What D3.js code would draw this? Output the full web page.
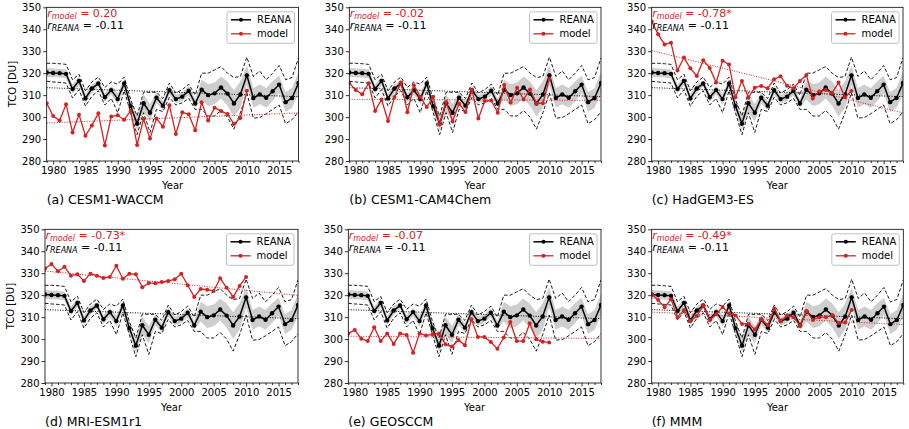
<!DOCTYPE html>
<html><head><meta charset="utf-8">
<script src="https://cdn.jsdelivr.net/npm/d3@7"></script>
<style>body{margin:0;background:#fff} svg{display:block;font-family:"DejaVu Sans",sans-serif}</style>
</head><body><svg id="c" width="909" height="429"></svg>
<script>
const years = [1979,1980,1981,1982,1983,1984,1985,1986,1987,1988,1989,1990,1991,1992,1993,1994,1995,1996,1997,1998,1999,2000,2001,2002,2003,2004,2005,2006,2007,2008,2009,2010,2011,2012,2013,2014,2015,2016,2017,2018];
const reana = [320.3,320.1,320,319.7,312.8,316.5,308.5,313,315.3,309,312.3,308.2,315.3,305,297,306.3,302,308.8,305.2,312.3,308.2,309.3,312,306.2,312.5,310,310.8,313.5,310.7,306.2,310.3,319,308.7,310.3,308.8,311.8,314.8,306.8,308.7,315.5];
const reanaBandLo = [318.3,318.1,318,317.7,310.8,314.5,306.5,311,313.8,307,310.3,305.7,313.3,302.5,294,302.3,298,306.3,303.2,310.3,306.2,307.3,310,304.2,308,305,305.8,308.5,305.2,300.2,304.3,314.5,304.2,305.8,304.3,307.3,310.8,302.3,304.2,310.5];
const reanaBandHi = [322.3,322.1,322,321.7,314.8,318.5,310.5,315,316.8,311,314.3,310.7,317.3,307.5,300,310.3,306,311.3,307.2,314.3,310.2,311.3,314,308.2,317,315,315.8,318.5,316.2,312.2,316.3,323.5,313.2,314.8,313.3,316.3,318.8,311.3,313.2,320.5];
const dashHi = [324.5,324.5,324.3,324,317,319.5,312,316,318.2,313.5,316,315,318.2,308,300.5,311.3,311.3,311.3,308.5,315.5,311,312.5,315,310,320,320,321.5,323,320,318,318.5,327.3,318.5,321,317,320,323.5,317,318,327];
const dashLo = [316.3,316,315.8,315.5,308.7,312.5,305,309.5,312,305.5,308.5,302,312,302,292,302,293,303.5,302.5,309,305.5,306.5,308.5,303.5,303.5,300.5,300.5,303,300,294.5,302,311,299.5,299.8,301.5,303.5,305.5,297,298.8,302.5];
const reanaTrend = [313.4, 309.3];

const modelYears = [1979,1980,1981,1982,1983,1984,1985,1986,1987,1988,1989,1990,1991,1992,1993,1994,1995,1996,1997,1998,1999,2000,2001,2002,2003,2004,2005,2006,2007,2008,2009,2010];
const modelWACCM = [306.3,300.5,298.4,305.8,293,301.1,291.5,296.2,301.7,287.1,300.3,300.8,298.8,302.8,287.3,299.1,290.2,299.4,295.6,305.4,292.3,302.2,301.3,294,306.7,298.4,304.3,302.8,301.4,296.9,299.6,312];
const modelCAM4 = [315.5,312.3,310.4,315.4,302.8,308,298.2,309.2,315.7,302.2,314.5,309.2,304.6,309.3,296.6,306.9,298,306.1,302.3,312.3,299.4,307.3,307.5,302,314.6,306.6,313.4,308,312.6,306.3,306.3,317.4];
const modelHadGEM = [343.5,337.7,333.1,333.9,321.2,327.1,322.2,318.7,325.9,322.4,315.7,325.7,324,309,316.4,308.9,313.4,314.2,313.1,317.2,318.6,314.3,313.1,316.4,319.2,308.5,311.7,312.3,311,315.7,309,311.9];
const modelMRI = [332.1,334.2,330.9,333,328.9,329.5,326.5,329.8,328.9,327.8,328.3,333.4,327.5,329.8,329.5,323.6,325.6,325.4,326,326.5,327.2,329.8,324.5,319.2,322.8,322.5,321.9,327.7,323.4,319.2,324.2,328.3];
const modelGEOS = [302.6,304.1,300.2,299.1,305.4,299.1,302.6,297.8,302.5,301.9,293.8,302.6,301.6,302.2,302.6,297.6,296.6,299.6,297.2,309,301,301,298.7,295.6,300.7,307.8,299.1,299.1,307.2,299.9,298.8,298.5];
const modelMMM = [320.4,317.8,314.5,318.1,309.9,313.3,308.2,310.5,315.2,308.7,311.3,314.6,311.6,310.7,306.9,307,304.4,308.9,306.4,313.9,308.1,310.8,309.9,306.1,312.8,308.7,310,310,310.8,307.3,307.6,313.3];
const modelSeries = [modelWACCM, modelCAM4, modelHadGEM, modelMRI, modelGEOS, modelMMM];
const modelTrends = [[297.3,301.9],[308.1,307.6],[330.3,301.9],[331,319.9],[301.3,300.3],[312.3,306.6]];

const panelLabels = ["(a) CESM1-WACCM","(b) CESM1-CAM4Chem","(c) HadGEM3-ES","(d) MRI-ESM1r1","(e) GEOSCCM","(f) MMM"];
const rModel = ["0.20","-0.02","-0.78*","-0.73*","-0.07","-0.49*"];
const rReana = "-0.11";
const yTicks = [280,290,300,310,320,330,340,350];
const xTicks = [1980,1985,1990,1995,2000,2005,2010,2015];

const layout = [
  {x0:46.7,x1:298.5,y0:7.3,y1:161},
  {x0:349.3,x1:601,y0:7.3,y1:161},
  {x0:651.7,x1:903,y0:7.3,y1:161},
  {x0:45,x1:298,y0:229.3,y1:383},
  {x0:348.3,x1:601,y0:229.3,y1:383},
  {x0:651.7,x1:903.3,y0:229.3,y1:383}
];
const RED = "#d42222";
const svg = d3.select("#c");

layout.forEach((L,i)=>{
  const g = svg.append("g");
  const x = d3.scaleLinear().domain([1979,2018]).range([L.x0,L.x1]);
  const y = d3.scaleLinear().domain([280,350]).range([L.y1,L.y0]);
  const clipId = "clip"+i;
  svg.append("clipPath").attr("id",clipId).append("rect")
    .attr("x",L.x0).attr("y",L.y0).attr("width",L.x1-L.x0).attr("height",L.y1-L.y0);
  const p = g.append("g").attr("clip-path",`url(#${clipId})`);
  p.append("path").datum(years)
    .attr("d", d3.area().x(d=>x(d)).y0((d,j)=>y(reanaBandLo[j])).y1((d,j)=>y(reanaBandHi[j])))
    .attr("fill","#cecece").attr("stroke","none");
  [dashHi,dashLo].forEach(arr=>{
    p.append("path").datum(years)
      .attr("d", d3.line().x(d=>x(d)).y((d,j)=>y(arr[j])))
      .attr("fill","none").attr("stroke","#000").attr("stroke-width",0.9).attr("stroke-dasharray","3.5,2");
  });
  p.append("line").attr("x1",x(1979)).attr("x2",x(2018)).attr("y1",y(reanaTrend[0])).attr("y2",y(reanaTrend[1]))
    .attr("stroke","#000").attr("stroke-width",1).attr("stroke-dasharray","1,1.5");
  p.append("line").attr("x1",x(1979)).attr("x2",x(2018)).attr("y1",y(modelTrends[i][0])).attr("y2",y(modelTrends[i][1]))
    .attr("stroke",RED).attr("stroke-width",1).attr("stroke-dasharray","1,1.5");
  p.append("path").datum(years)
    .attr("d", d3.line().x(d=>x(d)).y((d,j)=>y(reana[j])))
    .attr("fill","none").attr("stroke","#000").attr("stroke-width",1.5);
  p.selectAll("circle.r").data(years).enter().append("circle")
    .attr("cx",d=>x(d)).attr("cy",(d,j)=>y(reana[j])).attr("r",2.2).attr("fill","#000");
  const m = modelSeries[i];
  p.append("path").datum(modelYears)
    .attr("d", d3.line().x(d=>x(d)).y((d,j)=>y(m[j])))
    .attr("fill","none").attr("stroke",RED).attr("stroke-width",1.3);
  p.selectAll("circle.m").data(modelYears).enter().append("circle")
    .attr("cx",d=>x(d)).attr("cy",(d,j)=>y(m[j])).attr("r",2).attr("fill",RED);

  const xAxis = d3.axisBottom(x).tickValues(xTicks).tickFormat(d3.format("d")).tickSize(3.5).tickPadding(2);
  const xg = g.append("g").attr("transform",`translate(0,${L.y1})`).call(xAxis);
  xg.select(".domain").remove();
  xg.selectAll("text").attr("font-size",10).attr("font-family","DejaVu Sans").attr("fill","#000");
  const xMinor = d3.axisBottom(x).tickValues(years.filter(d=>d%5!==0)).tickFormat("").tickSize(2);
  const xm = g.append("g").attr("transform",`translate(0,${L.y1})`).call(xMinor);
  xm.select(".domain").remove();
  const yAxis = d3.axisLeft(y).tickValues(yTicks).tickSize(3.5).tickPadding(2);
  const yg = g.append("g").attr("transform",`translate(${L.x0},0)`).call(yAxis);
  yg.select(".domain").remove();
  yg.selectAll("text").attr("font-size",10).attr("font-family","DejaVu Sans").attr("fill","#000");
  g.selectAll(".tick line").attr("stroke","#000").attr("stroke-width",0.8);
  g.append("rect").attr("x",L.x0).attr("y",L.y0).attr("width",L.x1-L.x0).attr("height",L.y1-L.y0)
    .attr("fill","none").attr("stroke","#000").attr("stroke-width",0.8);

  const t1 = g.append("text").attr("x",L.x0+0.5).attr("y",L.y0+10).attr("font-size",11).attr("fill",RED);
  t1.append("tspan").attr("font-style","italic").text("r");
  t1.append("tspan").attr("font-style","italic").attr("font-size",8).attr("dy",2).text("model");
  t1.append("tspan").attr("dy",-2).text(" = "+rModel[i]);
  const t2 = g.append("text").attr("x",L.x0+0.5).attr("y",L.y0+21.5).attr("font-size",11).attr("fill","#000");
  t2.append("tspan").attr("font-style","italic").text("r");
  t2.append("tspan").attr("font-style","italic").attr("font-size",8).attr("dy",2).text("REANA");
  t2.append("tspan").attr("dy",-2).text(" = "+rReana);

  const lx = L.x1-71.5, ly = L.y0+4.5;
  g.append("rect").attr("x",lx).attr("y",ly).attr("width",67.5).attr("height",31.5).attr("rx",2)
    .attr("fill","#fff").attr("stroke","#b0b0b0").attr("stroke-width",0.8);
  [["REANA","#000"],["model",RED]].forEach((e,k)=>{
    const yy = ly+8+k*14;
    g.append("line").attr("x1",lx+4).attr("x2",lx+24).attr("y1",yy).attr("y2",yy).attr("stroke",e[1]).attr("stroke-width",k?1.3:1.5);
    g.append("circle").attr("cx",lx+14).attr("cy",yy).attr("r",2).attr("fill",e[1]);
    g.append("text").attr("x",lx+30).attr("y",yy+3.5).attr("font-size",10).attr("fill","#000").text(e[0]);
  });

  g.append("text").attr("x",(L.x0+L.x1)/2).attr("y",L.y1+28).attr("text-anchor","middle").attr("font-size",10).text("Year");
  g.append("text").attr("x",L.x0).attr("y",L.y1+43).attr("font-size",12.5).text(panelLabels[i]);
  if(i%3===0){
    g.append("text").attr("transform",`translate(${L.x0-31},${(L.y0+L.y1)/2}) rotate(-90)`)
      .attr("text-anchor","middle").attr("font-size",10).text("TCO [DU]");
  }
});
</script></body></html>
